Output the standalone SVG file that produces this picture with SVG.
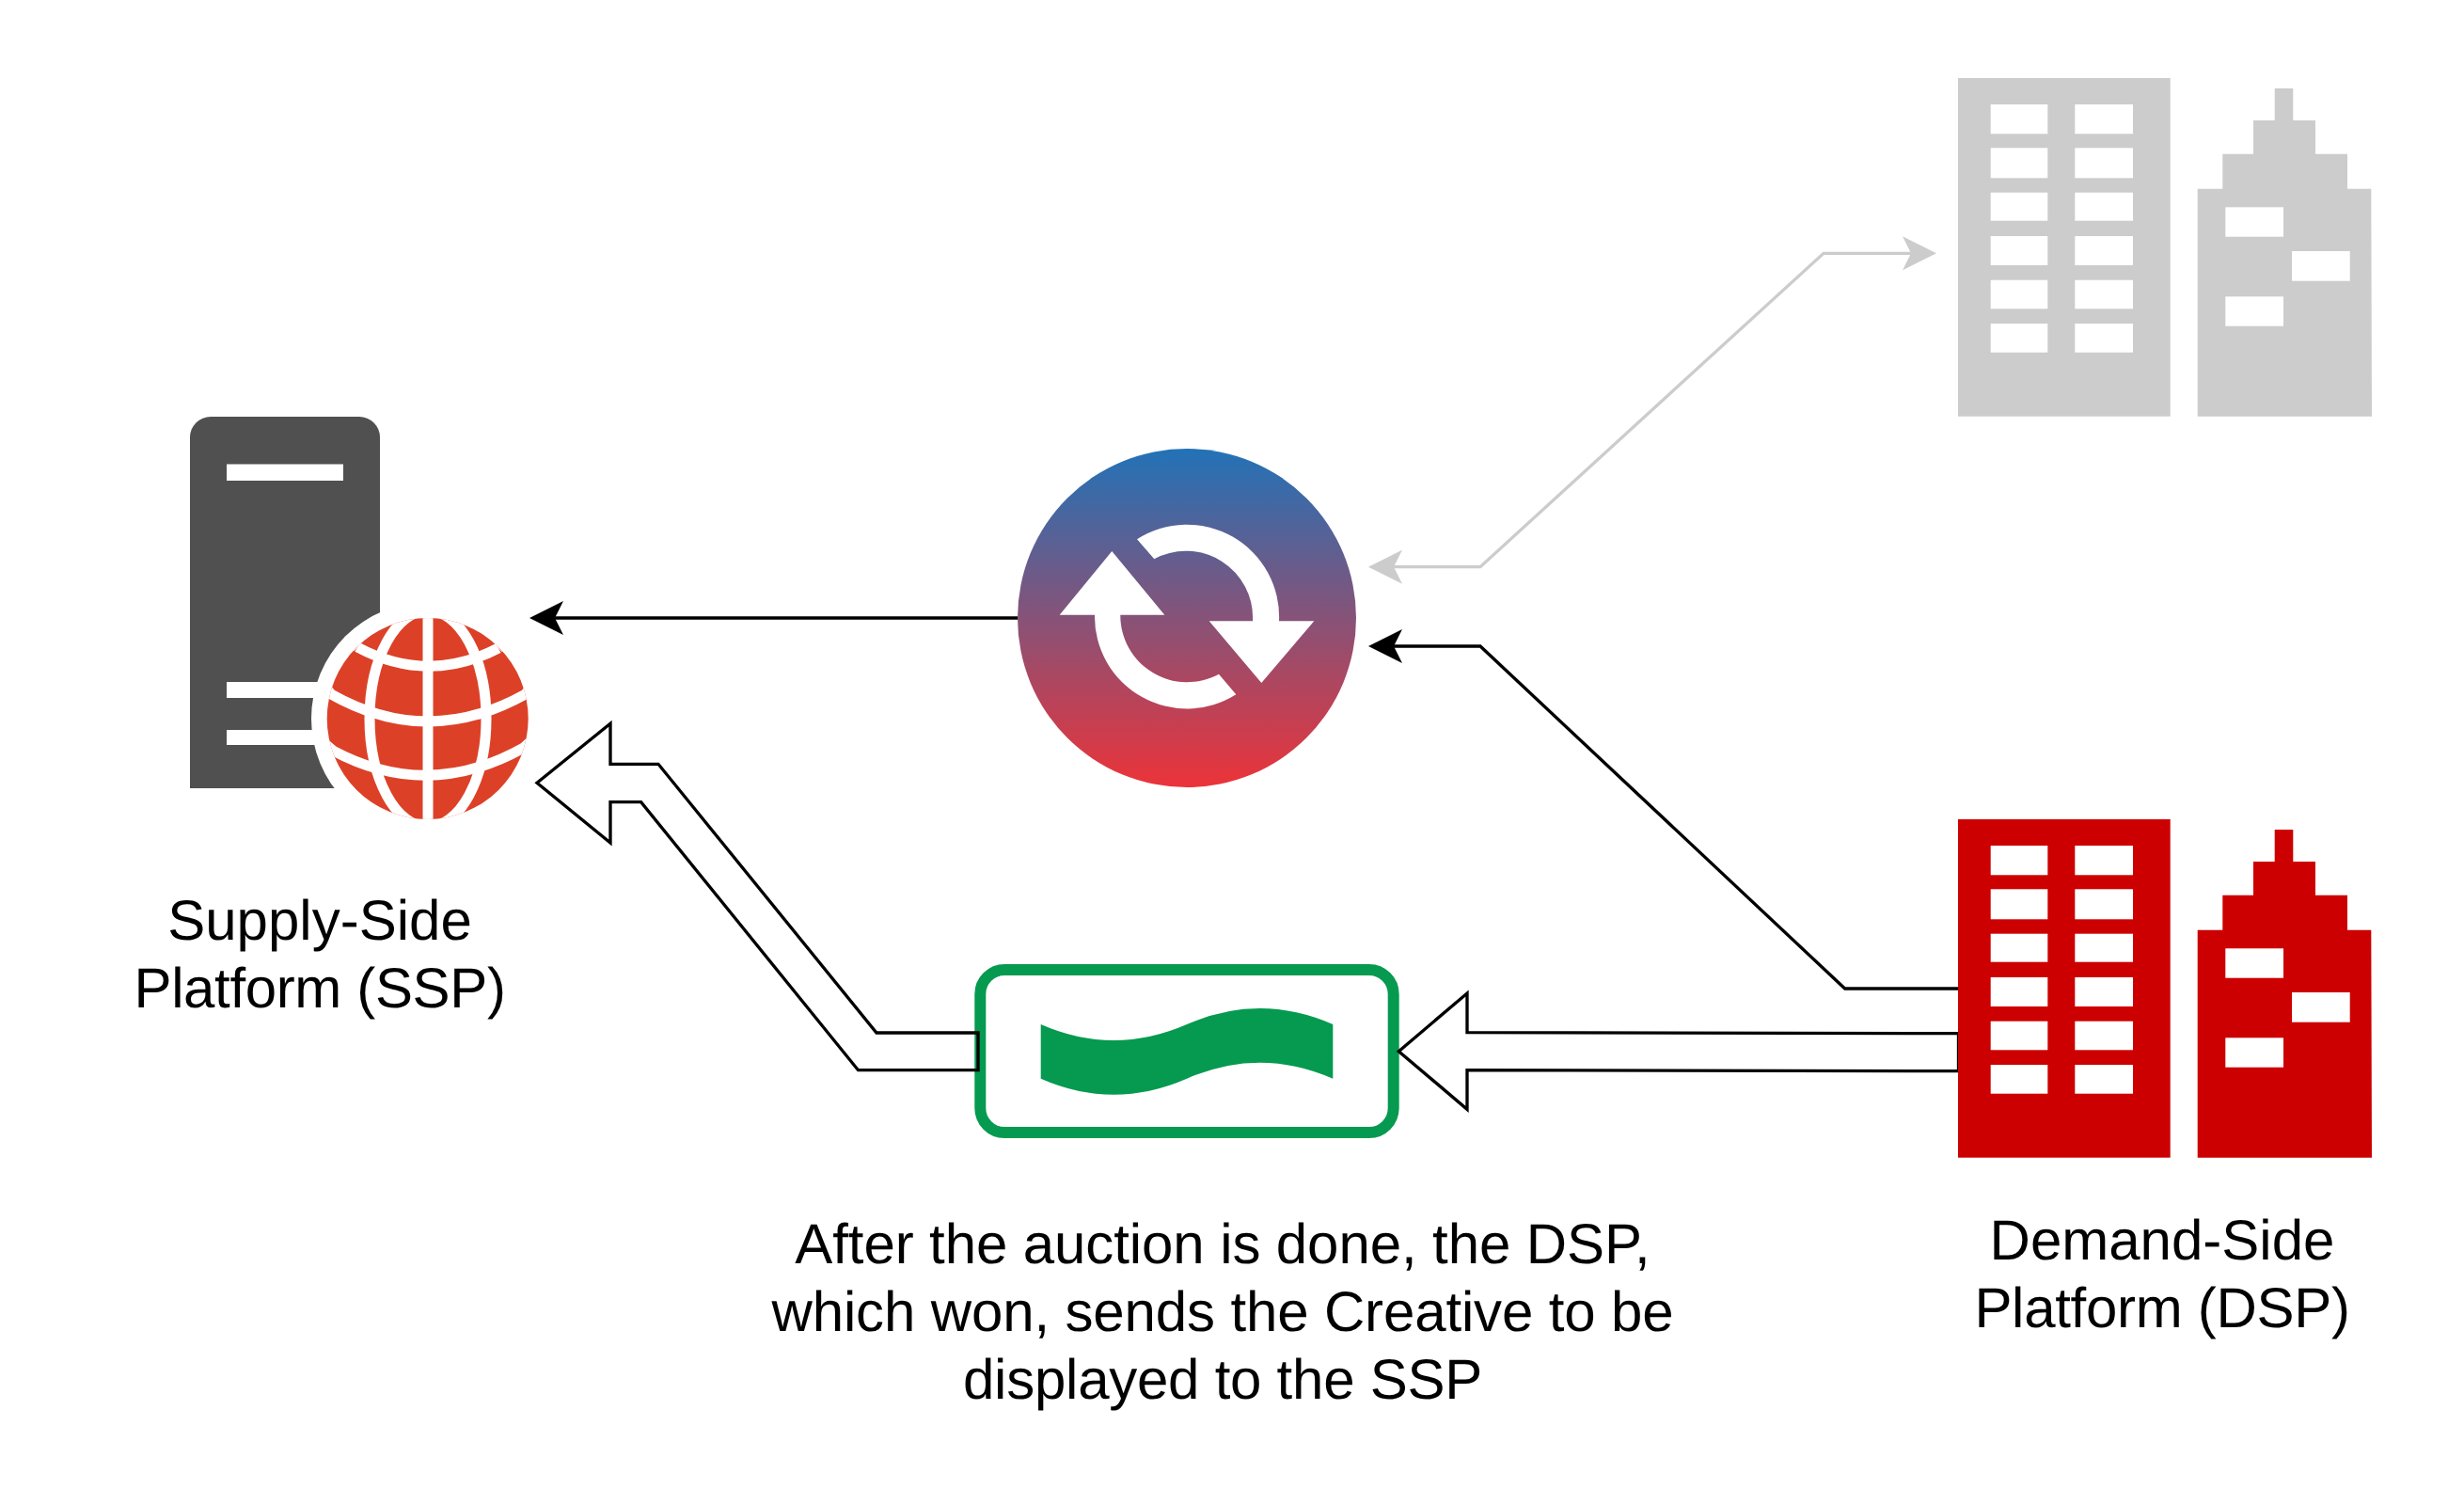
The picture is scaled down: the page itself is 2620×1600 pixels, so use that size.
<svg xmlns="http://www.w3.org/2000/svg" width="2620" height="1600" viewBox="0 0 2620 1600">
<style>
.label{font-family:"Liberation Sans",Arial,sans-serif;font-size:60px;fill:#000;text-anchor:middle;text-rendering:geometricPrecision}
.line{fill:none;stroke:#000;stroke-width:3.33;stroke-linejoin:miter}
.gray{stroke:#ccc}
.hollow{fill:none;stroke:#000;stroke-width:3.33;stroke-miterlimit:10}
.win{fill:#fff}
.slot{fill:#fff}
.grid{fill:none;stroke:#fff;stroke-width:11}
</style>
<defs>
<marker id="headBlack" markerUnits="userSpaceOnUse" markerWidth="36" markerHeight="36" refX="9" refY="18" orient="auto-start-reverse" viewBox="0 0 36 36"><path d="M0,0L36,18L0,36L9,18Z" fill="#000"/></marker>
<marker id="headGray" markerUnits="userSpaceOnUse" markerWidth="36" markerHeight="36" refX="9" refY="18" orient="auto-start-reverse" viewBox="0 0 36 36"><path d="M0,0L36,18L0,36L9,18Z" fill="#ccc"/></marker>
<linearGradient id="auctionFill" x1="0" y1="0" x2="0" y2="1"><stop offset="0" stop-color="#2272B7"/><stop offset="1" stop-color="#EC3339"/></linearGradient>
<clipPath id="globeClip"><circle cx="454.7" cy="763" r="107"/></clipPath>
<g id="buildings">
<rect x="2082" y="82" width="225.700" height="359.700"/>
<path d="M2336.700,441.700V199.700H2363.300V162.700H2396V127H2418.700V93H2438.300V127H2462V162.700H2496V199.700H2521.300L2522,441.700Z"/>
<g class="win">
<rect x="2116.700" y="110" width="60.600" height="31.300"/><rect x="2206.300" y="110" width="61.700" height="31.300"/>
<rect x="2116.700" y="156.300" width="60.600" height="32"/><rect x="2206.300" y="156.300" width="61.700" height="32"/>
<rect x="2116.700" y="203.700" width="60.600" height="30"/><rect x="2206.300" y="203.700" width="61.700" height="30"/>
<rect x="2116.700" y="250" width="60.600" height="31"/><rect x="2206.300" y="250" width="61.700" height="31"/>
<rect x="2116.700" y="296.700" width="60.600" height="30.600"/><rect x="2206.300" y="296.700" width="61.700" height="30.600"/>
<rect x="2116.700" y="343" width="60.600" height="30.700"/><rect x="2206.300" y="343" width="61.700" height="30.700"/>
<rect x="2366.300" y="219.300" width="61.700" height="31.400"/><rect x="2437" y="266" width="61.700" height="31.700"/><rect x="2366.300" y="314.300" width="61.700" height="31.400"/>
</g>
</g>
</defs>
<rect width="2620" height="1600" fill="#fff"/>
<g transform="translate(0,1)">
<g id="node-creative">
<rect x="1042.300" y="1030" width="439.400" height="173" rx="26" ry="26" fill="#fff" stroke="#059A4F" stroke-width="12"/>
<path d="M1106.700,1088Q1184,1122 1262,1088Q1339.500,1054 1417.300,1088V1145.700Q1339.500,1111.700 1262,1145.700Q1184,1179.700 1106.700,1145.700Z" fill="#059A4F"/>
</g>
<g id="connectors">
<path class="line gray" d="M1482,601.700H1574L1939,268.300H2032" marker-start="url(#headGray)" marker-end="url(#headGray)"/>
<path class="line" d="M1082,656H590" marker-end="url(#headBlack)"/>
<path class="line" d="M2082,1050H1961.700L1574,686H1482" marker-end="url(#headBlack)"/>
<path class="hollow" d="M2082.500,1097.700L1560,1096.700V1055L1487.300,1116.700L1560,1178.300V1136.700L2082.500,1137.700Z"/>
<path class="hollow" d="M571,831.300L649,768.300V811.300H700L932,1097H1040V1136.700H912.500L681.600,851.700H649V895Z"/>
</g>
<g id="node-ssp">
<path d="M202,837V464A22,22 0 0 1 224,442H382A22,22 0 0 1 404,464V837Z" fill="#505050"/>
<rect class="slot" x="241" y="492.500" width="124" height="17.500"/>
<rect class="slot" x="241" y="724" width="124" height="17"/>
<rect class="slot" x="241" y="775" width="124" height="16"/>
<circle cx="455" cy="763" r="124" fill="#fff"/>
<circle cx="454.700" cy="763" r="107" fill="#DC4127"/>
<g clip-path="url(#globeClip)">
<path class="grid" d="M455,640V886"/>
<ellipse class="grid" cx="455" cy="763" rx="62" ry="115"/>
<path class="grid" d="M380,687Q455,727 530,688"/>
<path class="grid" d="M340,722L352,737Q455,795 558.700,737L570,722"/>
<path class="grid" d="M340,785L354,797Q455,851 556.700,794L570,782"/>
<path class="grid" d="M360,670L380,687M530,688L550,670"/>
</g>
<text class="label" x="340" y="998">Supply-Side</text>
<text class="label" x="340" y="1070" letter-spacing="-0.36">Platform (SSP)</text>
</g>
<g id="node-auction">
<circle cx="1262" cy="656" r="180" fill="url(#auctionFill)"/>
<path fill="#fff" d="M1126.700,652.700L1182.300,585L1238.300,652.700H1191.300A71,71 0 0 0 1296,715.700L1314.300,737.300A98,98 0 0 1 1164,652.700Z"/>
<path fill="#fff" d="M1397.300,659.300L1341.300,725L1285.700,659.300H1332A71,71 0 0 0 1227.300,593.300L1209,572.300A98,98 0 0 1 1360,659.300Z"/>
</g>
<g id="node-dsp-gray" fill="#ccc"><use href="#buildings"/></g>
<g id="node-dsp" fill="#CC0000">
<use href="#buildings" y="788"/>
<text class="label" x="2299" y="1338">Demand-Side</text>
<text class="label" x="2299" y="1410" letter-spacing="-0.3">Platform (DSP)</text>
</g>
<g id="note">
<text class="label" x="1300" y="1342" letter-spacing="-0.1">After the auction is done, the DSP,</text>
<text class="label" x="1300" y="1414" letter-spacing="-0.14">which won, sends the Creative to be</text>
<text class="label" x="1300" y="1486" letter-spacing="-0.25">displayed to the SSP</text>
</g>
</g>
</svg>
